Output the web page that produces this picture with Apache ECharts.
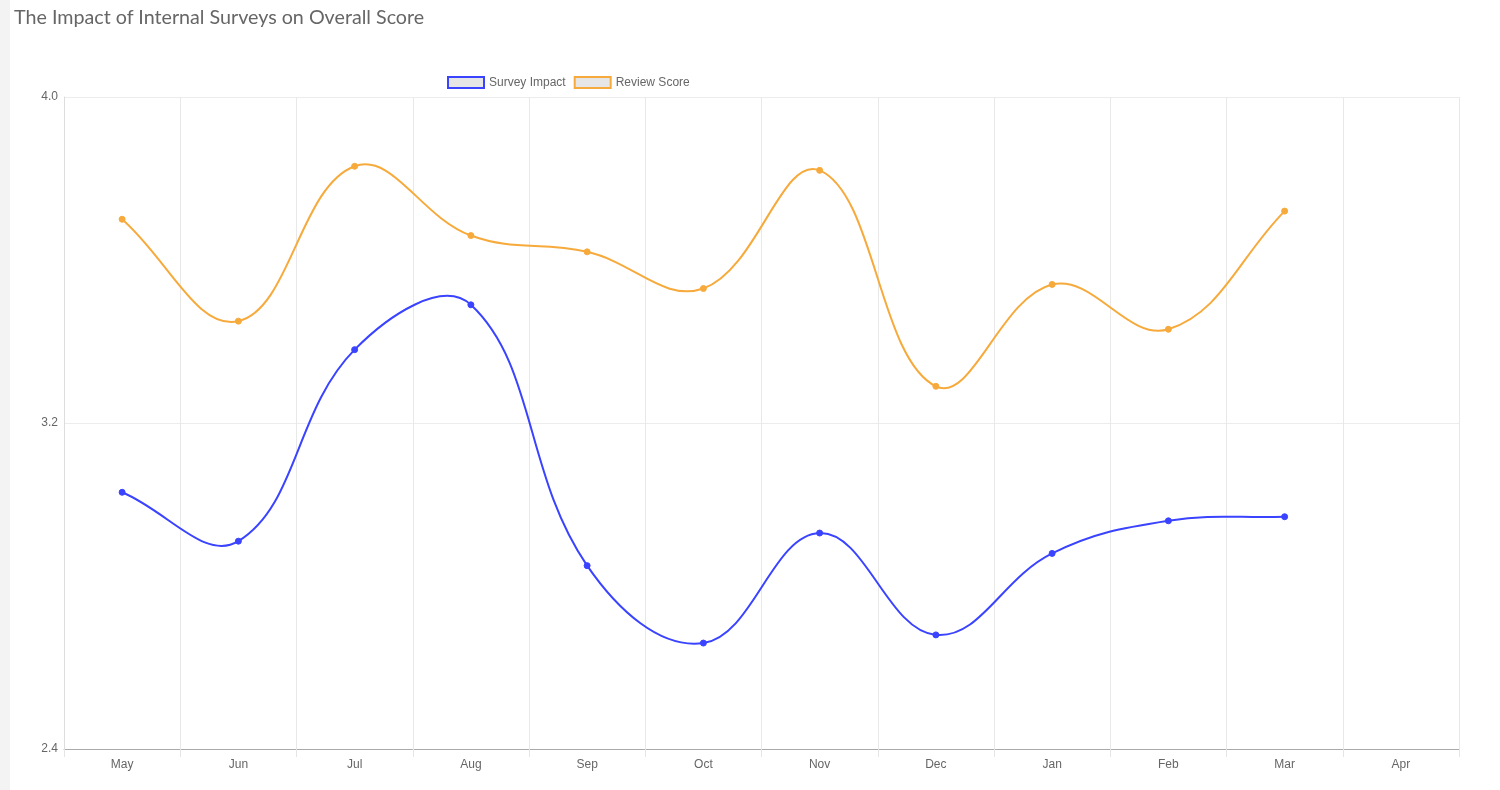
<!DOCTYPE html>
<html>
<head>
<meta charset="utf-8">
<script src="https://cdn.jsdelivr.net/npm/echarts@6/dist/echarts.min.js"></script>
<style>
html,body{margin:0;padding:0;background:#fff;}
#stripe{position:absolute;left:0;top:0;width:10px;height:790px;background:#f3f3f3;}
#title{position:absolute;left:14px;top:5px;font-family:Lato,sans-serif;font-size:19.7px;color:#666;}
#chart{position:absolute;left:0;top:0;width:1500px;height:790px;}
</style>
</head>
<body>
<div id="chart"></div>
<div id="stripe"></div>
<div id="title">The Impact of Internal Surveys on Overall Score</div>
<script>
const categories = ['May','Jun','Jul','Aug','Sep','Oct','Nov','Dec','Jan','Feb','Mar','Apr'];
const surveyImpact = [3.03, 2.91, 3.38, 3.49, 2.85, 2.66, 2.93, 2.68, 2.88, 2.96, 2.97];
const reviewScore = [3.70, 3.45, 3.83, 3.66, 3.62, 3.53, 3.82, 3.29, 3.54, 3.43, 3.72];
const yTicks = [2.4, 3.2, 4.0];

const blue = '#3a43ff';
const orange = '#f7aa3c';
const TENSION = 0.4;
const chart = echarts.init(document.getElementById('chart'));
const font = 'Helvetica, Arial, sans-serif';

// Chart.js-style cardinal spline drawn through the library's own coordinate system
function splinePath(values, api, params) {
  const pts = values.map((v, i) => api.coord([i, v]));
  const cs = params.coordSys;
  const minX = cs.x, maxX = cs.x + cs.width, minY = cs.y, maxY = cs.y + cs.height;
  const clampX = x => Math.max(minX, Math.min(maxX, x));
  const clampY = y => Math.max(minY, Math.min(maxY, y));
  const cps = pts.map((cur, i) => {
    const prev = pts[i - 1] || cur, next = pts[i + 1] || cur;
    const d01 = Math.hypot(cur[0] - prev[0], cur[1] - prev[1]);
    const d12 = Math.hypot(next[0] - cur[0], next[1] - cur[1]);
    let s01 = d01 / (d01 + d12), s12 = d12 / (d01 + d12);
    s01 = isNaN(s01) ? 0 : s01; s12 = isNaN(s12) ? 0 : s12;
    const fa = TENSION * s01, fb = TENSION * s12;
    return {
      prev: [clampX(cur[0] - fa * (next[0] - prev[0])), clampY(cur[1] - fa * (next[1] - prev[1]))],
      next: [clampX(cur[0] + fb * (next[0] - prev[0])), clampY(cur[1] + fb * (next[1] - prev[1]))]
    };
  });
  let d = 'M' + pts[0][0] + ' ' + pts[0][1];
  for (let i = 1; i < pts.length; i++) {
    const a = cps[i - 1].next, b = cps[i].prev, p = pts[i];
    d += ' C' + a[0] + ' ' + a[1] + ' ' + b[0] + ' ' + b[1] + ' ' + p[0] + ' ' + p[1];
  }
  return d;
}

function curveSeries(name, values, color) {
  return {
    name, type: 'custom', silent: true, z: 2,
    data: values.map((v, i) => [i, v]),
    renderItem: (params, api) => {
      if (params.dataIndex !== 0) return null;
      return {
        type: 'path',
        shape: { pathData: splinePath(values, api, params) },
        style: { fill: 'none', stroke: color, lineWidth: 2 }
      };
    }
  };
}
function pointSeries(name, values, color) {
  return {
    name, type: 'line', data: values, z: 3,
    symbol: 'circle', symbolSize: 6,
    lineStyle: { color, width: 0, opacity: 0 },
    itemStyle: { color, borderColor: color, borderWidth: 1 },
    emphasis: { disabled: true }
  };
}
chart.setOption({
  animation: false,
  grid: { left: 64, right: 41, top: 97, bottom: 41 },
  legend: {
    top: 76, left: 447, padding: 0,
    itemWidth: 36, itemHeight: 11, itemGap: 8,
    icon: 'rect',
    textStyle: { fontFamily: font, fontSize: 12, color: '#666' },
    data: [
      { name: 'Survey Impact', itemStyle: { color: '#e6e6e6', borderColor: blue, borderWidth: 2 } },
      { name: 'Review Score', itemStyle: { color: '#e6e6e6', borderColor: orange, borderWidth: 2 } }
    ]
  },
  xAxis: {
    type: 'category', data: categories, boundaryGap: true,
    axisLine: { lineStyle: { color: '#aaa' } },
    axisTick: { show: true, length: 8, lineStyle: { color: '#e5e5e5' } },
    axisLabel: { fontFamily: font, fontSize: 12, color: '#666', margin: 10 },
    splitLine: { show: true, lineStyle: { color: '#e8e8e8' } }
  },
  yAxis: {
    type: 'value', min: yTicks[0], max: yTicks[yTicks.length - 1], interval: 0.8,
    axisLine: { show: true, lineStyle: { color: '#ddd' } },
    axisTick: { show: false },
    axisLabel: { fontFamily: font, fontSize: 12, color: '#666', margin: 6,
      formatter: v => v.toFixed(1) },
    splitLine: { show: true, lineStyle: { color: '#ececec' } }
  },
  series: [
    curveSeries('Survey Impact', surveyImpact, blue),
    curveSeries('Review Score', reviewScore, orange),
    pointSeries('Survey Impact', surveyImpact, blue),
    pointSeries('Review Score', reviewScore, orange)
  ]
});
</script>
</body>
</html>
